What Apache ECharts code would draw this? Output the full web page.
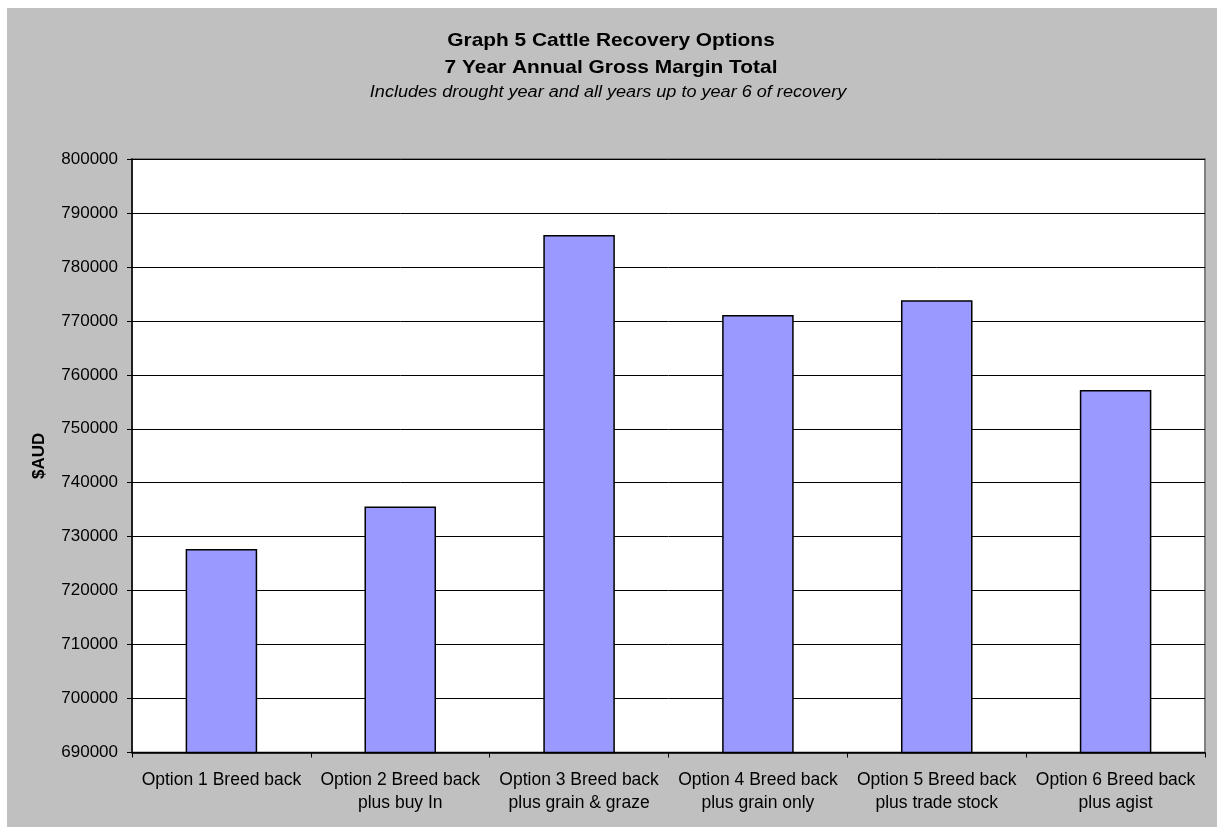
<!DOCTYPE html>
<html>
<head>
<meta charset="utf-8">
<script src="https://cdn.jsdelivr.net/npm/echarts@6/dist/echarts.min.js"></script>
<style>
  html, body { margin: 0; padding: 0; background: #ffffff; }
  #chart { width: 1217px; height: 827px; }
</style>
</head>
<body>
<div id="chart"></div>
<script>
// Cattle recovery options: 7-year annual gross margin totals ($AUD)
const categories = [
  'Option 1 Breed back',
  'Option 2 Breed back\nplus buy In',
  'Option 3 Breed back\nplus grain & graze',
  'Option 4 Breed back\nplus grain only',
  'Option 5 Breed back\nplus trade stock',
  'Option 6 Breed back\nplus agist'
];
const grossMargin = [727700, 735600, 785900, 771100, 773800, 757200];
const yMin = 690000;
const yMax = 800000;
const yStep = 10000;

const FONT = '"Liberation Sans", Arial, sans-serif';

const chart = echarts.init(document.getElementById('chart'), null, { renderer: 'canvas' });

chart.setOption({
  animation: false,
  backgroundColor: '#ffffff',
  graphic: [
    {
      type: 'rect', z: -10, silent: true,
      shape: { x: 7, y: 8, width: 1210, height: 819 },
      style: { fill: '#c0c0c0' }
    },
    {
      type: 'text', x: 611, y: 41, scaleX: 1.1,
      style: { text: 'Graph 5 Cattle Recovery Options', font: 'bold 19px ' + FONT, fill: '#000', align: 'center', verticalAlign: 'middle' }
    },
    {
      type: 'text', x: 611, y: 68, scaleX: 1.1,
      style: { text: '7 Year Annual Gross Margin Total', font: 'bold 19px ' + FONT, fill: '#000', align: 'center', verticalAlign: 'middle' }
    },
    {
      type: 'text', x: 608, y: 93, scaleX: 1.13,
      style: { text: 'Includes drought year and all years up to year 6 of recovery', font: 'italic 16px ' + FONT, fill: '#000', align: 'center', verticalAlign: 'middle' }
    }
  ],
  grid: {
    left: 132, right: 12, top: 159, bottom: 74.5,
    show: true, backgroundColor: '#ffffff', borderColor: '#808080', borderWidth: 2
  },
  xAxis: {
    type: 'category',
    data: categories,
    axisLine: { show: true, lineStyle: { color: '#000', width: 1.5 } },
    axisTick: { show: true, length: 5, alignWithLabel: false, lineStyle: { color: '#000' } },
    axisLabel: {
      interval: 0, margin: 16, color: '#000',
      fontFamily: FONT, fontSize: 17.5, lineHeight: 23, align: 'center'
    },
    splitLine: { show: false }
  },
  yAxis: {
    type: 'value',
    min: yMin, max: yMax, interval: yStep,
    name: '$AUD',
    nameLocation: 'middle',
    nameGap: 84,
    nameRotate: 90,
    nameTextStyle: { fontFamily: FONT, fontWeight: 'bold', fontSize: 17, color: '#000' },
    axisLine: { show: true, lineStyle: { color: '#000', width: 1.5 } },
    axisTick: { show: true, length: 5, lineStyle: { color: '#000' } },
    axisLabel: {
      margin: 14, color: '#000', fontFamily: FONT, fontSize: 17,
      formatter: v => String(v)
    },
    splitLine: { show: true, lineStyle: { color: '#000', width: 1 } }
  },
  series: [{
    type: 'bar',
    data: grossMargin,
    barWidth: '40%',
    itemStyle: { color: '#9999ff', borderColor: '#000', borderWidth: 1.5 }
  }]
});
</script>
</body>
</html>
